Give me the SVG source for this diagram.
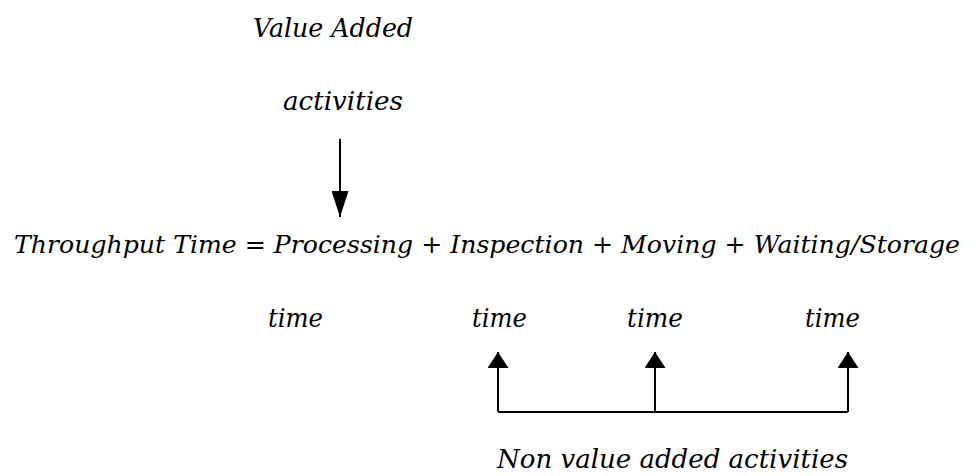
<svg xmlns="http://www.w3.org/2000/svg" width="978" height="476" viewBox="0 0 978 476">
  <style>
    .t { font-family: "DejaVu Serif", "Liberation Serif", serif; font-style: italic; font-size: 26px; fill: #000; }
    .eq { font-size: 24px; }
    .c { stroke: #000; stroke-width: 2; fill: none; }
  </style>
  <defs>
    <marker id="ah" viewBox="0 0 26 17" refX="26" refY="8.5" markerWidth="26" markerHeight="17" markerUnits="userSpaceOnUse" orient="auto">
      <path d="M0,0 L26,8.5 L0,17 Z" fill="#000"/>
    </marker>
    <marker id="ahs" viewBox="0 0 16 21" refX="16" refY="10.5" markerWidth="16" markerHeight="21" markerUnits="userSpaceOnUse" orient="auto">
      <path d="M0,0 L16,10.5 L0,21 Z" fill="#000"/>
    </marker>
  </defs>
  <rect width="978" height="476" fill="#fff"/>

  <g id="value-added">
    <text class="t" x="253" y="37" textLength="160" lengthAdjust="spacingAndGlyphs">Value Added</text>
    <text class="t" x="283" y="110" textLength="120" lengthAdjust="spacingAndGlyphs">activities</text>
  </g>

  <g id="equation">
    <text class="t eq" x="14" y="253" textLength="946" lengthAdjust="spacingAndGlyphs">Throughput Time = Processing + Inspection + Moving + Waiting/Storage</text>
  </g>

  <g id="time-labels">
    <text class="t" x="268" y="327" textLength="55" lengthAdjust="spacingAndGlyphs">time</text>
    <text class="t" x="472" y="327" textLength="55" lengthAdjust="spacingAndGlyphs">time</text>
    <text class="t" x="627" y="327" textLength="56" lengthAdjust="spacingAndGlyphs">time</text>
    <text class="t" x="805" y="327" textLength="55" lengthAdjust="spacingAndGlyphs">time</text>
  </g>

  <g id="non-value-added">
    <text class="t" x="497" y="468" textLength="351" lengthAdjust="spacingAndGlyphs">Non value added activities</text>
  </g>

  <g id="connectors">
    <line class="c" x1="340" y1="139" x2="340" y2="217" marker-end="url(#ah)"/>
    <polyline class="c" points="498,412 848,412"/>
    <line class="c" x1="498" y1="412" x2="498" y2="352" marker-end="url(#ahs)"/>
    <line class="c" x1="655" y1="412" x2="655" y2="352" marker-end="url(#ahs)"/>
    <line class="c" x1="848" y1="412" x2="848" y2="352" marker-end="url(#ahs)"/>
  </g>
</svg>
